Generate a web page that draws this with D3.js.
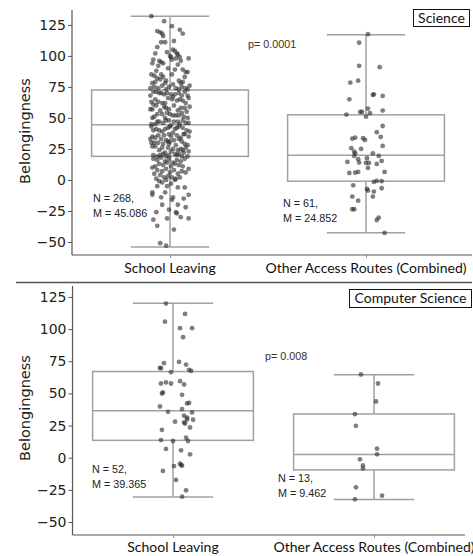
<!DOCTYPE html>
<html>
<head>
<meta charset="utf-8">
<script src="https://cdn.jsdelivr.net/npm/d3@7"></script>
<style>
  body { margin: 0; background: #fff; }
  svg { display: block; }
</style>
</head>
<body>
<div id="chart"></div>
<script>
// categories, ticks and panel labels
var categories = ["School Leaving", "Other Access Routes (Combined)"];
var yTicks = [-50, -25, 0, 25, 50, 75, 100, 125];
var panelTitles = ["Science", "Computer Science"];
var pLabels = ["p= 0.0001", "p= 0.008"];
var nCounts = [[268, 61], [52, 13]];
var means = [["45.086", "24.852"], ["39.365", "9.462"]];

// box stats: [low whisker, q1, median, q3, high whisker]
var sciBoxes = [[-54, 19, 44.5, 72.5, 132], [-42.5, -1, 20, 52.5, 117]];
var csBoxes = [[-30.5, 13.5, 36.5, 67, 120], [-32.5, -9.5, 2.5, 34, 64.5]];

// points: [jitter, belongingness]
var sciSchool = [
  [-19,132],[-6,128],[2,124],[10,121],[13,118],[-13,120],[-10,119],[-8,118],[-7,116],[-5,111],[-9,111],[4,112],[-13,107],[-15,102],[3,105],[5,104],[7,102],[8,101],[10,99],[11,96],[1,99],[2,97],[19,98],[-17,97],[-11,96],[-9,95],[-7,94],[-18,94],[-12,92],[5,89],[13,89],[16,87],[18,87],[-19,85],[-16,84],[-13,82],[-9,85],[-7,83],[-4,80],[13,79],[9,80],[11,78],[-5,78],[-18,78],[-15,79],
  [0,100],[-3,103],[6,98],[-14,88],[-2,90],[8,93],[15,83],[-10,81],[2,85],[20,76],[-20,74],[-16,75],[-12,74],[-8,76],[-4,73],[-1,75],[3,77],[6,74],[9,73],[12,75],[16,74],[18,73],
  [-3,70],[12,68],[-17,71],[5,69],[-9,70],[18,68],[-14,71],[1,69],[9,70],[-20,68],[15,71],[-6,69],[3,67],[-11,70],
  [7,64],[-15,65],[16,62],[-2,66],[-19,63],[10,65],[-8,62],[19,66],[-12,63],[2,65],[-5,62],[13,64],[-17,61],
  [11,58],[-6,59],[-18,57],[4,60],[15,58],[-10,56],[20,59],[-1,57],[-14,60],[8,56],[-4,58],[17,55],[-20,57],
  [6,52],[-13,53],[14,51],[-3,54],[-18,50],[9,52],[-8,53],[18,50],[0,53],[-16,51],[12,54],[-5,50],[3,52],
  [-11,47],[16,46],[-1,48],[-19,45],[8,47],[-7,46],[13,48],[-15,45],[4,47],[19,46],[-4,48],[10,45],[-13,47],[1,44],
  [9,43],[-14,41],[-2,42],[17,40],[-19,43],[5,41],[-8,39],[13,42],[-11,40],[0,43],[20,39],[-5,41],[7,42],[-17,40],
  [-6,36],[15,37],[-18,35],[3,38],[11,34],[-12,36],[-1,37],[19,35],[-9,33],[7,36],[-15,34],[1,35],[14,37],[-20,33],
  [12,31],[-7,29],[4,32],[-16,30],[18,28],[-2,31],[9,33],[-12,30],[15,29],[-4,32],[6,28],[-19,30],[0,31],
  [-8,26],[13,24],[-15,27],[3,25],[19,23],[-2,26],[8,24],[-18,27],[11,25],[-5,22],[16,26],[-11,24],[1,23],
  [5,21],[-17,20],[14,22],[-4,19],[9,21],[-10,20],[18,19],[-1,20],[-13,19],[7,20],[-7,21],[12,19],[-1,29],
  [-17,17],[-13,16],[-9,18],[-5,15],[-1,17],[3,14],[7,16],[11,15],[15,17],[-11,13],[-7,12],[-3,14],[1,11],[5,13],[9,12],[-15,11],[13,11],[19,9],[-18,10],
  [-13,8],[-8,7],[-4,9],[0,6],[4,8],[8,5],[-16,5],[12,7],[16,6],[-10,4],[-2,3],[2,2],[6,1],[-6,2],[-14,1],[10,2],[-11,-1],[-4,0],[5,0],[-8,-2],[1,-3],
  [-13,-5],[-3,-5],[8,-6],[15,-6],[19,-12],[-18,-12],[-18,-10],[-5,-10],[2,-16],[3,-14],[-8,-20],[8,-20],[-14,-26],[6,-26],[7,-27],[11,-30],[19,-31],[-3,-31],[-17,-32],[-13,-37],[-10,-51],[-4,-53],[14,-15],[-9,-14],[4,-40],[16,-22],[-1,-24]
];
var sciOther = [
  [2,117.5],[-7,110.7],[-7,92],[14,90.9],[-8,80],[-16,78.5],[8,69],[7,68.5],[17,67.7],[-17,65],[-6,54.8],[-4,54.8],[2,57.5],[4,53.8],[17,55.9],[-20,52.7],[0,51],[17,43.5],[11,38.5],[15,34.7],[-14,33.3],[-11,34.1],[-3,33.6],[-1,32.3],[17,27.4],[-15,25.6],[-5,25],[-12,22.8],[-11,21.5],[-12,19.4],[7,21.5],[1,17.5],[13,19.4],[16,15.3],[-19,14.5],[-8,16.7],[-7,14],[0,13.7],[3,13.7],[11,12.9],[2,9.7],[-8,6.5],[-17,5.6],[-11,5.9],[19,6.5],[11,-0.8],[8,-1.6],[16,-1],[-13,-4.3],[1,-7.3],[2,-8.6],[16,-6.7],[8,-9.4],[7,-13.4],[-14,-13.4],[-8,-16.7],[-14,-23.6],[-12,-23.6],[13,-30.4],[11,-32.3],[19,-42.7]
];
var csSchool = [
  [-7,119.8],[12,111.8],[-8,105.8],[7,100.7],[19,100.7],[10,93.7],[-9,73.5],[6,74.5],[13,72.4],[-13,69.9],[-12,69.6],[-2,66.5],[16,68.3],[18,67.5],[-12,57.7],[-7,58.5],[-2,57.7],[7,59.5],[11,56.9],[-11,49.9],[-10,50.7],[9,48.9],[-13,39.8],[14,42.2],[16,42.7],[-5,35.7],[9,37.8],[19,35.2],[11,32.6],[14,31.1],[14,29.7],[20,29.5],[2,28],[12,26.6],[11,27.4],[17,23.5],[-11,21.7],[-12,13.7],[0,13],[13,15.5],[15,13],[-7,6.8],[8,5.7],[17,2.6],[7,-4.7],[9,-6.2],[1,-6.5],[-10,-10.3],[3,-17.3],[13,-25.4],[9,-30.3],[8,-5.5]
];
var csOther = [
  [-13,64.7],[4,57.7],[2,43.7],[-19,33.9],[-18,24.8],[3,7],[3,2.6],[-14,-1.3],[-11,-6],[-11,-8.3],[-18,-23],[-19,-32.4],[8,-29.5]
];

var W = 473, H = 556;
var svg = d3.select("#chart").append("svg")
    .attr("width", W)
    .attr("height", H);

var axisCol = "#555", boxCol = "#a0a0a0";

// separator between panels
svg.append("line")
    .attr("x1", 16).attr("x2", 472)
    .attr("y1", 282.5).attr("y2", 282.5)
    .attr("stroke", axisCol).attr("stroke-width", 1.3);

function drawPanel(c) {
    var g = svg.append("g");

    var y = d3.scaleLinear().domain(c.ydom).range([c.yBot, c.yTop]);
    var x = d3.scalePoint().domain(categories).range(c.xRange).padding(0.5);
    var step = x.step();
    var jit = d3.scaleLinear().domain([-20, 20]).range([-step * 0.1, step * 0.1]);

    // y axis
    var ya = g.append("g")
        .attr("transform", "translate(" + c.xRange[0] + ",0)")
        .call(d3.axisLeft(y).tickValues(yTicks).tickSize(4).tickPadding(2));
    ya.select(".domain").remove();
    ya.selectAll(".tick line").attr("stroke", axisCol);
    ya.selectAll(".tick text")
        .attr("font-family", "DejaVu Sans")
        .attr("font-size", 14)
        .attr("fill", "#222");
    g.append("line")
        .attr("x1", c.xRange[0]).attr("x2", c.xRange[0])
        .attr("y1", c.yTop).attr("y2", c.yBot)
        .attr("stroke", axisCol).attr("stroke-width", 1.2);

    // x axis
    var xa = g.append("g")
        .attr("transform", "translate(0," + c.yBot + ")")
        .call(d3.axisBottom(x).tickSize(3).tickFormat(""));
    xa.select(".domain").remove();
    xa.selectAll(".tick line").attr("stroke", "#999");
    g.append("line")
        .attr("x1", c.xRange[0]).attr("x2", c.xEnd)
        .attr("y1", c.yBot).attr("y2", c.yBot)
        .attr("stroke", axisCol).attr("stroke-width", 1.2);

    g.selectAll(".xlab")
        .data(categories)
        .enter().append("text")
        .attr("x", function(d) { return x(d); })
        .attr("y", c.labY)
        .attr("text-anchor", "middle")
        .attr("font-family", "Lato, 'Open Sans', sans-serif")
        .attr("font-size", 14)
        .attr("fill", "#111")
        .text(function(d) { return d; });

    g.append("text")
        .attr("transform", "translate(30," + c.ylabY + ") rotate(-90)")
        .attr("text-anchor", "middle")
        .attr("font-family", "DejaVu Sans")
        .attr("font-size", 14.5)
        .attr("fill", "#222")
        .text("Belongingness");

    // boxes
    var bw = step * 0.8, cw = step * 0.4;
    c.boxes.forEach(function(b, i) {
        var cx = x(categories[i]);
        var bg = g.append("g").attr("stroke", boxCol).attr("stroke-width", 1.5).attr("fill", "none");
        bg.append("line").attr("x1", cx).attr("x2", cx).attr("y1", y(b[0])).attr("y2", y(b[1]));
        bg.append("line").attr("x1", cx).attr("x2", cx).attr("y1", y(b[3])).attr("y2", y(b[4]));
        bg.append("line").attr("x1", cx - cw / 2).attr("x2", cx + cw / 2).attr("y1", y(b[0])).attr("y2", y(b[0]));
        bg.append("line").attr("x1", cx - cw / 2).attr("x2", cx + cw / 2).attr("y1", y(b[4])).attr("y2", y(b[4]));
        bg.append("rect")
            .attr("x", cx - bw / 2).attr("width", bw)
            .attr("y", y(b[3])).attr("height", y(b[1]) - y(b[3]));
        bg.append("line").attr("x1", cx - bw / 2).attr("x2", cx + bw / 2).attr("y1", y(b[2])).attr("y2", y(b[2]));
    });

    // jittered points
    c.pts.forEach(function(pts, i) {
        var cx = x(categories[i]);
        g.append("g").selectAll("circle")
            .data(pts)
            .enter().append("circle")
            .attr("cx", function(d) { return cx + jit(d[0]); })
            .attr("cy", function(d) { return y(d[1]); })
            .attr("r", 2.4)
            .attr("fill", "#2a2a2a")
            .attr("fill-opacity", 0.6);
    });

    // annotations
    var note = function(xp, yp, t, col) {
        g.append("text")
            .attr("x", xp).attr("y", yp)
            .attr("font-family", "Liberation Sans, Arial, sans-serif")
            .attr("font-size", 10.8)
            .attr("fill", col || "#222")
            .text(t);
    };
    c.nPos.forEach(function(p, i) {
        note(p[0], p[1], "N = " + c.n[i] + ",");
        note(p[0], p[1] + 15, "M = " + c.m[i]);
    });
    note(c.pPos[0], c.pPos[1], c.p, "#3b3024");

    // facet title
    g.append("rect")
        .attr("x", c.tBox[0] + 0.5).attr("y", c.tBox[1] + 0.5)
        .attr("width", c.tBox[2]).attr("height", c.tBox[3])
        .attr("fill", "#fff").attr("stroke", "#111").attr("stroke-width", 1);
    g.append("text")
        .attr("x", c.tBox[0] + c.tBox[2] / 2 + 0.5)
        .attr("y", c.tBox[1] + c.tBox[3] / 2 + 5)
        .attr("text-anchor", "middle")
        .attr("font-family", "Lato, 'Open Sans', sans-serif")
        .attr("font-size", 14)
        .attr("fill", "#111")
        .text(c.title);
}

drawPanel({
    yTop: 10, yBot: 255, ydom: [-60.5, 137],
    xRange: [72, 464], xEnd: 472,
    boxes: sciBoxes, pts: [sciSchool, sciOther],
    labY: 273, ylabY: 131,
    nPos: [[93, 202], [283, 207]], n: nCounts[0], m: means[0],
    pPos: [248, 48], p: pLabels[0],
    tBox: [413, 9, 56, 17], title: panelTitles[0]
});

drawPanel({
    yTop: 286, yBot: 535, ydom: [-60.1, 133.5],
    xRange: [72.5, 474.5], xEnd: 465,
    boxes: csBoxes, pts: [csSchool, csOther],
    labY: 552, ylabY: 408,
    nPos: [[92, 473], [278, 482]], n: nCounts[1], m: means[1],
    pPos: [265, 360], p: pLabels[1],
    tBox: [349, 289, 122, 18], title: panelTitles[1]
});
</script>
</body>
</html>
